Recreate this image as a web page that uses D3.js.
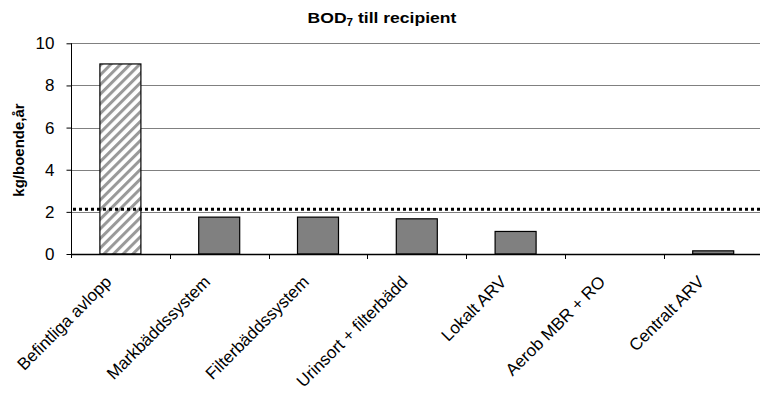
<!DOCTYPE html>
<html>
<head>
<meta charset="utf-8">
<script src="https://cdn.jsdelivr.net/npm/d3@7"></script>
<style>
  html, body { margin: 0; padding: 0; background: #fff; }
  svg { display: block; }
  text { font-family: Arial, "Liberation Sans", sans-serif; fill: #000; }
</style>
</head>
<body>
<svg id="chart" width="760" height="394"></svg>
<script>
const categories = ["Befintliga avlopp", "Markbäddssystem", "Filterbäddssystem", "Urinsort + filterbädd", "Lokalt ARV", "Aerob MBR + RO", "Centralt ARV"];
const values = [9.02, 1.75, 1.75, 1.67, 1.07, 0, 0.15];
const referenceValue = [2.12];
const yTicks = [0, 2, 4, 6, 8, 10];
const titleMain = "BOD";
const titleSub = "7";
const titleRest = " till recipient";
const yLabel = "kg/boende,år";

const svg = d3.select("#chart");
const plotLeft = 71, plotRight = 762.6, plotTop = 43.3, plotBottom = 254;

const x = d3.scaleBand().domain(categories).range([plotLeft, plotRight]).paddingInner(0.585).paddingOuter(0.2925);
const y = d3.scaleLinear().domain([0, 10]).range([plotBottom, plotTop]);

const defs = svg.append("defs");
const pat = defs.append("pattern").attr("id", "hatch").attr("patternUnits", "userSpaceOnUse")
  .attr("width", 6.8).attr("height", 6.8).attr("patternTransform", "rotate(45)");
pat.append("rect").attr("width", 6.8).attr("height", 6.8).attr("fill", "#fff");
pat.append("rect").attr("x", 0).attr("y", 0).attr("width", 3).attr("height", 6.8).attr("fill", "#999");

// gridlines
svg.append("g").selectAll("line").data(yTicks.filter(d => d > 0)).join("line")
  .attr("x1", plotLeft).attr("x2", 760)
  .attr("y1", d => Math.round(y(d)) + 0.5).attr("y2", d => Math.round(y(d)) + 0.5)
  .attr("stroke", "#808080").attr("stroke-width", 1);

// bars
svg.append("g").selectAll("rect").data(categories).join("rect")
  .attr("x", d => x(d))
  .attr("y", (d, i) => y(values[i]))
  .attr("width", x.bandwidth())
  .attr("height", (d, i) => plotBottom - y(values[i]))
  .attr("fill", (d, i) => i === 0 ? "url(#hatch)" : "#808080")
  .attr("stroke", "#000").attr("stroke-width", 1.2)
  .attr("display", (d, i) => values[i] > 0 ? null : "none");

// reference dotted line
svg.append("g").selectAll("line").data(referenceValue).join("line")
  .attr("x1", plotLeft + 2).attr("x2", 760)
  .attr("y1", d => y(d)).attr("y2", d => y(d))
  .attr("stroke", "#000").attr("stroke-width", 3).attr("stroke-dasharray", "3,3");

// y axis
const yAxis = d3.axisLeft(y).tickValues(yTicks).tickSize(5).tickPadding(12).tickFormat(d3.format("d"));
const gy = svg.append("g").attr("transform", `translate(${plotLeft + 0.5},0)`).call(yAxis);
gy.select(".domain").attr("d", `M0,${plotTop}V${plotBottom + 4}`).attr("stroke", "#000");
gy.selectAll(".tick line").attr("stroke", "#000");
gy.selectAll(".tick text").attr("font-size", "17px").attr("font-family", "Arial, 'Liberation Sans', sans-serif").attr("fill", "#000");

// x axis line and ticks at category boundaries
svg.append("line").attr("x1", plotLeft).attr("x2", 760).attr("y1", plotBottom + 0.5).attr("y2", plotBottom + 0.5)
  .attr("stroke", "#000").attr("stroke-width", 1.3);
const boundaries = categories.map((d, i) => i + 1);
svg.append("g").selectAll("line").data(boundaries).join("line")
  .attr("x1", i => Math.round(plotLeft + i * x.step()) + 0.5).attr("x2", i => Math.round(plotLeft + i * x.step()) + 0.5)
  .attr("y1", plotBottom).attr("y2", plotBottom + 5)
  .attr("stroke", "#000");

// x labels
svg.append("g").selectAll("text").data(categories).join("text")
  .attr("transform", d => `translate(${x(d) + x.bandwidth() / 2 - 8},${plotBottom + 29}) rotate(-45)`)
  .attr("text-anchor", "end")
  .attr("font-size", "17px")
  .text(d => d);

// title
const t = svg.append("text").attr("transform", "translate(382,23) scale(1.17,1)").attr("text-anchor", "middle")
  .attr("font-size", "15px").attr("font-weight", "bold");
t.append("tspan").text(titleMain);
t.append("tspan").attr("font-size", "10px").attr("dy", 3).text(titleSub);
t.append("tspan").attr("dy", -3).text(titleRest);

// y label
svg.append("text").attr("transform", `translate(24,150) rotate(-90)`).attr("text-anchor", "middle")
  .attr("font-size", "15px").attr("font-weight", "bold").text(yLabel);
</script>
</body>
</html>
